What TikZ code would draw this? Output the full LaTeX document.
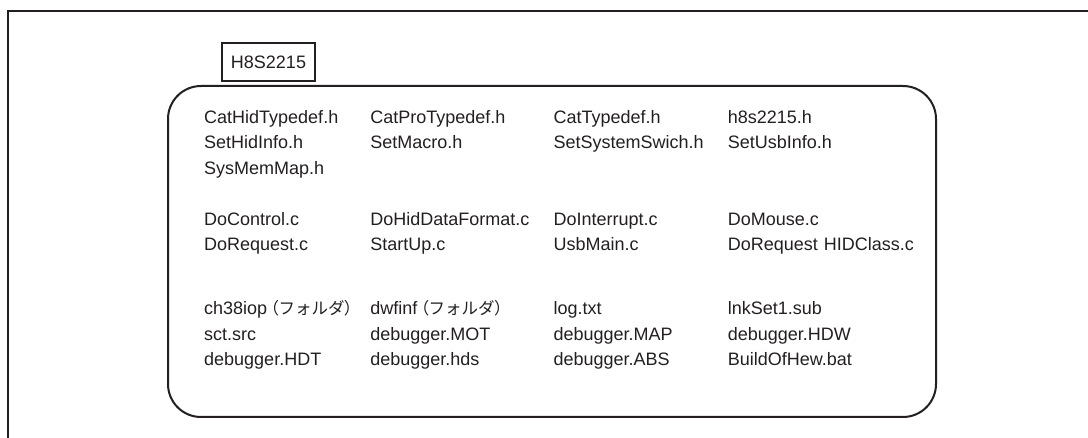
\documentclass[tikz,border=0pt]{standalone}
\usepackage{fontspec}
\setmainfont{Liberation Sans}
\newfontfamily\jpfont{Noto Sans CJK JP}
\newfontfamily\jpparen[RawFeature=+palt]{Noto Sans CJK JP}
\usetikzlibrary{positioning,matrix}
\definecolor{ink}{RGB}{35,31,32}
\newcommand{\folder}{\kern3pt{\fontsize{16.5}{18}\jpparen （\jpfont フォルダ\jpparen ）}}

\begin{document}
\begin{tikzpicture}[x=1pt,y=-1pt,file/.style={anchor=base west,inner sep=0pt,text height=18pt,text depth=7.5pt,align=left,font=\fontsize{18}{21}\selectfont,text=ink}, chip/.style={draw=ink,line width=2pt,minimum width=93pt,minimum height=38pt,inner sep=0pt,font=\fontsize{18}{21}\selectfont,text=ink}, frame/.style={draw=ink,line width=2pt}, board/.style={draw=ink,line width=2pt,rounded corners=33pt}]
\useasboundingbox (0,0) rectangle (1088,438);
\draw [frame] (1088,11) -- (8.3,11) -- (8.3,438);
\draw [board] (168,86) rectangle (936,417);
\node(chip)[chip] at (268.5,62) {H8S2215};
\matrix(files)[anchor=north west,inner sep=0pt,row sep=0pt,column sep=0pt,column 1/.style={nodes={text width=166pt}},column 2/.style={nodes={text width=183pt}},column 3/.style={nodes={text width=174pt}},column 4/.style={nodes={text width=190pt}}] at (204,105)
{
\node(catHid)[file]{CatHidTypedef.h};  \pgfmatrixnextcell \node(catPro)[file]{CatProTypedef.h};  \pgfmatrixnextcell \node(catType)[file]{CatTypedef.h};  \pgfmatrixnextcell \node(h8s)[file]{h8s2215.h};\\
\node(setHid)[file]{SetHidInfo.h};  \pgfmatrixnextcell \node(setMacro)[file]{SetMacro.h};  \pgfmatrixnextcell \node(setSys)[file]{SetSystemSwich.h};  \pgfmatrixnextcell \node(setUsb)[file]{SetUsbInfo.h};\\
\node(sysMem)[file]{SysMemMap.h};  \pgfmatrixnextcell  \pgfmatrixnextcell  \pgfmatrixnextcell \\[25.5pt]
\node(doCtrl)[file]{DoControl.c};  \pgfmatrixnextcell \node(doHid)[file]{DoHidDataFormat.c};  \pgfmatrixnextcell \node(doInt)[file]{DoInterrupt.c};  \pgfmatrixnextcell \node(doMouse)[file]{DoMouse.c};\\
\node(doReq)[file]{DoRequest.c};  \pgfmatrixnextcell \node(startUp)[file]{StartUp.c};  \pgfmatrixnextcell \node(usbMain)[file]{UsbMain.c};  \pgfmatrixnextcell \node(doReqHid)[file]{DoRequest HIDClass.c};\\[38.5pt]
\node(ch38)[file]{ch38iop\folder};  \pgfmatrixnextcell \node(dwfinf)[file]{dwfinf\folder};  \pgfmatrixnextcell \node(logTxt)[file]{log.txt};  \pgfmatrixnextcell \node(lnkSet)[file]{lnkSet1.sub};\\
\node(sctSrc)[file]{sct.src};  \pgfmatrixnextcell \node(dbgMot)[file]{debugger.MOT};  \pgfmatrixnextcell \node(dbgMap)[file]{debugger.MAP};  \pgfmatrixnextcell \node(dbgHdw)[file]{debugger.HDW};\\
\node(dbgHdt)[file]{debugger.HDT};  \pgfmatrixnextcell \node(dbgHds)[file]{debugger.hds};  \pgfmatrixnextcell \node(dbgAbs)[file]{debugger.ABS};  \pgfmatrixnextcell \node(buildHew)[file]{BuildOfHew.bat};\\
};
\end{tikzpicture}
\end{document}
